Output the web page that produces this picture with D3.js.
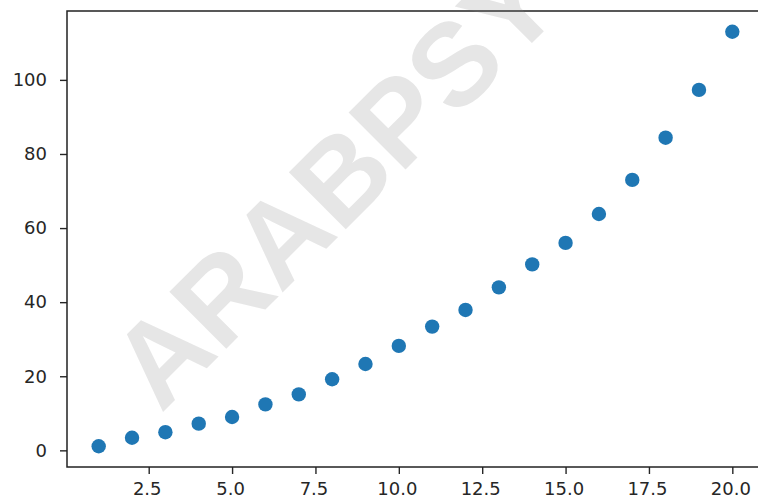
<!DOCTYPE html>
<html>
<head>
<meta charset="utf-8">
<script src="https://cdn.jsdelivr.net/npm/d3@7"></script>
<style>
  html, body { margin: 0; padding: 0; background: #fff; }
  svg { display: block; }
</style>
</head>
<body>
<svg id="chart" width="758" height="501"></svg>
<script>
// ---- data ----
const xValues = [1, 2, 3, 4, 5, 6, 7, 8, 9, 10, 11, 12, 13, 14, 15, 16, 17, 18, 19, 20];
const yValues = [1.1, 3.4, 4.9, 7.2, 9.0, 12.4, 15.1, 19.2, 23.3, 28.2, 33.4, 37.9, 44.0, 50.2, 56.0, 63.8, 73.0, 84.4, 97.3, 113.0];
const xTicks = [2.5, 5.0, 7.5, 10.0, 12.5, 15.0, 17.5, 20.0];
const yTicks = [0, 20, 40, 60, 80, 100];
const watermarkText = "ARABPSY";

const svg = d3.select("#chart");
const plotLeft = 67, plotRight = 764, plotTop = 11, plotBottom = 467;

// matplotlib-like 5% margins
const xPad = (d3.max(xValues) - d3.min(xValues)) * 0.05;
const yPad = (d3.max(yValues) - d3.min(yValues)) * 0.05;
const x = d3.scaleLinear()
  .domain([d3.min(xValues) - xPad, d3.max(xValues) + xPad])
  .range([plotLeft, plotRight]);
const y = d3.scaleLinear()
  .domain([d3.min(yValues) - yPad, d3.max(yValues) + yPad])
  .range([plotBottom, plotTop]);

const font = "'DejaVu Sans', sans-serif";
const tickColor = "#262626";

// axes
const xAxis = svg.append("g")
  .attr("transform", `translate(0,${plotBottom})`)
  .call(d3.axisBottom(x).tickValues(xTicks).tickFormat(d3.format(".1f")).tickSize(7).tickPadding(8));
const yAxis = svg.append("g")
  .attr("transform", `translate(${plotLeft},0)`)
  .call(d3.axisLeft(y).tickValues(yTicks).tickFormat(d3.format("d")).tickSize(7).tickPadding(13));

[xAxis, yAxis].forEach(g => {
  g.select(".domain").remove();
  g.selectAll(".tick line").attr("stroke", tickColor).attr("stroke-width", 1.4);
  g.selectAll(".tick text")
    .attr("fill", tickColor)
    .style("font-family", font)
    .style("font-size", "18px");
});
xAxis.selectAll(".tick text").attr("dy", "0.71em").attr("dx", -2);

// spines (frame)
svg.append("rect")
  .attr("x", plotLeft).attr("y", plotTop)
  .attr("width", plotRight - plotLeft).attr("height", plotBottom - plotTop)
  .attr("fill", "none")
  .attr("stroke", "#222")
  .attr("stroke-width", 1.5);

// points
svg.append("g")
  .selectAll("circle")
  .data(xValues.map((d, i) => ({ x: d, y: yValues[i] })))
  .join("circle")
  .attr("cx", d => x(d.x))
  .attr("cy", d => y(d.y))
  .attr("r", 7.2)
  .attr("fill", "#1f77b4");

// watermark
svg.append("text")
  .attr("transform", "translate(161,414) rotate(-45)")
  .attr("text-anchor", "start")
  .style("font-family", "'Liberation Sans', Arial, sans-serif")
  .style("font-weight", "bold")
  .style("font-size", "117px")
  .attr("fill", "gray")
  .attr("fill-opacity", 0.2)
  .text(watermarkText);
</script>
</body>
</html>
